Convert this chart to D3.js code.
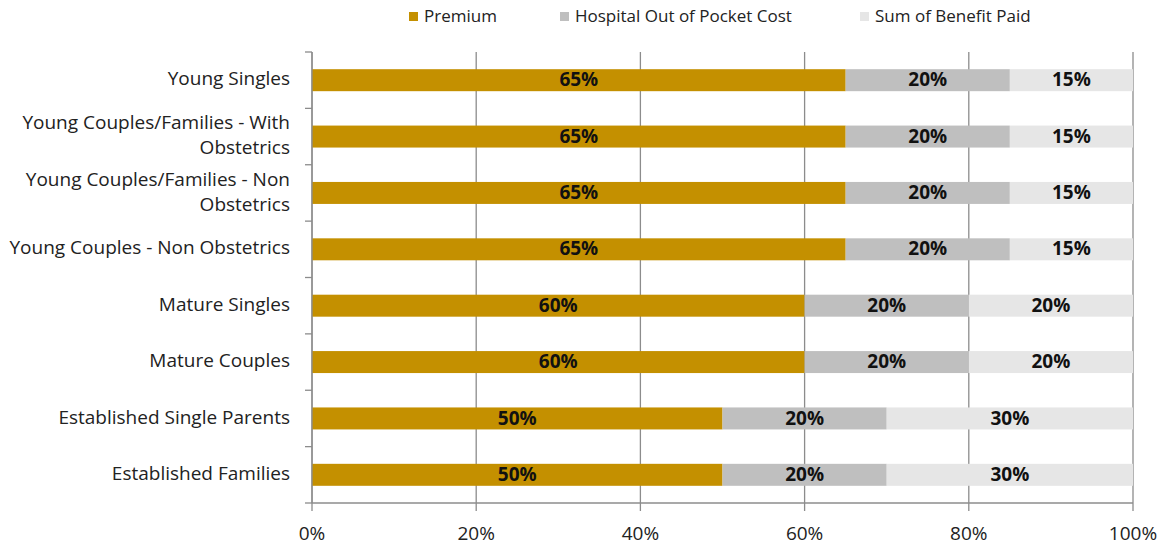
<!DOCTYPE html>
<html>
<head>
<meta charset="utf-8">
<script src="https://cdn.jsdelivr.net/npm/d3@7"></script>
<style>
  body { margin: 0; background: #fff; }
  text { font-family: "Open Sans", sans-serif; }
</style>
</head>
<body>
<svg id="chart" width="1162" height="549"></svg>
<script>
// chart data
const categories = [
  "Young Singles",
  "Young Couples/Families - With Obstetrics",
  "Young Couples/Families - Non Obstetrics",
  "Young Couples - Non Obstetrics",
  "Mature Singles",
  "Mature Couples",
  "Established Single Parents",
  "Established Families"
];
const seriesNames = ["Premium", "Hospital Out of Pocket Cost", "Sum of Benefit Paid"];
const premium  = [65, 65, 65, 65, 60, 60, 50, 50];
const hospital = [20, 20, 20, 20, 20, 20, 20, 20];
const benefit  = [15, 15, 15, 15, 20, 20, 30, 30];
const xTicks = [0, 20, 40, 60, 80, 100];
const colors = ["#c49000", "#bfbfbf", "#e6e6e6"];

const svg = d3.select("#chart");
const margin = {left: 312, right: 29, top: 52, bottom: 46};
const width = 1162, height = 549;

const x = d3.scaleLinear().domain([0, 100]).range([margin.left, width - margin.right]);
const y = d3.scaleBand().domain(categories).range([margin.top, height - margin.bottom]).paddingInner(0.61).paddingOuter(0.305);
const yb = d3.scaleBand().domain(categories).range([margin.top, height - margin.bottom]);

// rows for stacking
const rows = categories.map((c, i) => ({cat: c, s0: premium[i], s1: hospital[i], s2: benefit[i]}));
const stack = d3.stack().keys(["s0", "s1", "s2"])(rows);

// gridlines (extend below axis as tick marks)
svg.append("g")
  .selectAll("line")
  .data(xTicks)
  .join("line")
    .attr("x1", d => x(d)).attr("x2", d => x(d))
    .attr("y1", margin.top).attr("y2", height - margin.bottom + 8)
    .attr("stroke", "#8c8c8c").attr("stroke-width", 1.3);

// bars
const layers = svg.append("g")
  .selectAll("g")
  .data(stack)
  .join("g")
    .attr("fill", (d, i) => colors[i]);

layers.selectAll("rect")
  .data(d => d)
  .join("rect")
    .attr("x", d => x(d[0]))
    .attr("width", d => x(d[1]) - x(d[0]))
    .attr("y", d => y(d.data.cat))
    .attr("height", y.bandwidth());

layers.selectAll("text")
  .data(d => d)
  .join("text")
    .attr("x", d => (x(d[0]) + x(d[1])) / 2)
    .attr("y", d => y(d.data.cat) + y.bandwidth() / 2 + 1)
    .attr("text-anchor", "middle")
    .attr("dominant-baseline", "middle")
    .attr("fill", "#111")
    .style("font-size", "19px")
    .style("font-weight", "bold")
    .text(d => (d[1] - d[0]) + "%");

// y axis line and ticks
svg.append("line")
  .attr("x1", x(0)).attr("x2", x(0))
  .attr("y1", margin.top).attr("y2", height - margin.bottom)
  .attr("stroke", "#8c8c8c").attr("stroke-width", 1.3);
svg.append("g")
  .selectAll("line")
  .data(categories.concat(["end"]))
  .join("line")
    .attr("x1", x(0) - 7).attr("x2", x(0))
    .attr("y1", (d, i) => i < categories.length ? yb(d) : height - margin.bottom)
    .attr("y2", (d, i) => i < categories.length ? yb(d) : height - margin.bottom)
    .attr("stroke", "#8c8c8c").attr("stroke-width", 1.3);

// x axis line
svg.append("line")
  .attr("x1", x(0)).attr("x2", x(100))
  .attr("y1", height - margin.bottom).attr("y2", height - margin.bottom)
  .attr("stroke", "#8c8c8c").attr("stroke-width", 1.3);

// x tick labels
svg.append("g")
  .selectAll("text")
  .data(xTicks)
  .join("text")
    .attr("x", d => x(d))
    .attr("y", 540)
    .attr("text-anchor", "middle")
    .attr("fill", "#222")
    .style("font-size", "19px")
    .text(d => d + "%");

// category labels, wrapped like the original
const labelLines = {
  "Young Couples/Families - With Obstetrics": ["Young Couples/Families - With", "Obstetrics"],
  "Young Couples/Families - Non Obstetrics": ["Young Couples/Families - Non", "Obstetrics"]
};
svg.append("g")
  .selectAll("text")
  .data(categories)
  .join("text")
    .attr("text-anchor", "end")
    .attr("fill", "#222")
    .style("font-size", "19px")
    .each(function(d) {
      const lines = labelLines[d] || [d];
      const cy = yb(d) + yb.bandwidth() / 2;
      const lh = 25;
      const t = d3.select(this);
      lines.forEach((l, k) => {
        t.append("tspan")
          .attr("x", 290)
          .attr("y", cy + (k - (lines.length - 1) / 2) * lh)
          .attr("dominant-baseline", "middle")
          .text(l);
      });
    });

// legend
const legendX = [409, 560, 860];
const legend = svg.append("g")
  .selectAll("g")
  .data(seriesNames)
  .join("g")
    .attr("transform", (d, i) => `translate(${legendX[i]},12)`);
legend.append("rect")
  .attr("width", 9).attr("height", 9)
  .attr("fill", (d, i) => colors[i]);
legend.append("text")
  .attr("x", 15).attr("y", 5)
  .attr("dominant-baseline", "middle")
  .attr("fill", "#222")
  .style("font-size", "17px")
  .text(d => d);
</script>
</body>
</html>
